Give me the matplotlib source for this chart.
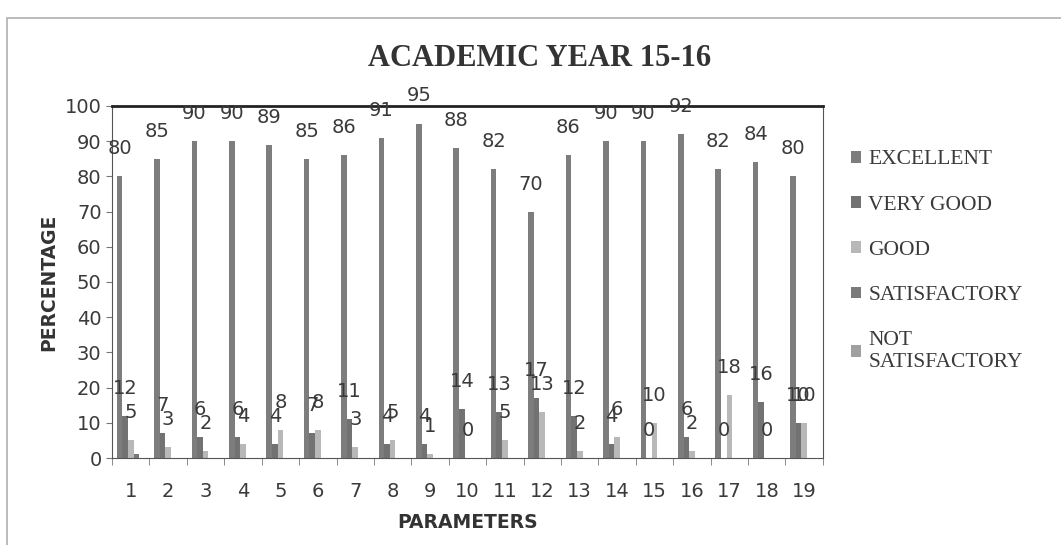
import numpy as np
import matplotlib
matplotlib.use("Agg")
import matplotlib.pyplot as plt
from matplotlib.patches import Rectangle

params = [str(i) for i in range(1, 20)]
excellent = [80, 85, 90, 90, 89, 85, 86, 91, 95, 88, 82, 70, 86, 90, 90, 92, 82, 84, 80]
very_good = [12, 7, 6, 6, 4, 7, 11, 4, 4, 14, 13, 17, 12, 4, 0, 6, 0, 16, 10]
good = [5, 3, 2, 4, 8, 8, 3, 5, 1, 0, 5, 13, 2, 6, 10, 2, 18, 0, 10]
satisfactory = [1, 0, 0, 0, 0, 0, 0, 0, 0, 0, 0, 0, 0, 0, 0, 0, 0, 0, 0]
not_satisfactory = [0] * 19

series = [("EXCELLENT", excellent, "#7d7d7d", True),
          ("VERY GOOD", very_good, "#727272", True),
          ("GOOD", good, "#b8b8b8", True),
          ("SATISFACTORY", satisfactory, "#7a7a7a", False),
          ("NOT\nSATISFACTORY", not_satisfactory, "#a0a0a0", False)]

fig = plt.figure(figsize=(10.61, 5.45), dpi=100)
fig.patches.append(Rectangle((0.0066, -0.01), 1.0, 0.977, transform=fig.transFigure,
                             fill=False, edgecolor="#b0b0b0", lw=1.2))
ax = fig.add_axes([0.1056, 0.1596, 0.670, 0.646])

x = np.arange(len(params))
w = 0.15
for i, (name, vals, col, lab) in enumerate(series):
    bars = ax.bar(x + (i - 2) * w, vals, w, color=col, label=name)
    if lab:
        ax.bar_label(bars, padding=13, fontsize=14, color="#3a3a3a")

ax.set_xlim(-0.5, len(params) - 0.5)
ax.set_ylim(0, 100)
ax.set_yticks(range(0, 101, 10))
ax.set_xticks(x)
ax.set_xticklabels(params)
ax.set_xticks(np.arange(-0.5, len(params), 1), minor=True)
ax.tick_params(axis="x", which="major", length=0, labelsize=14, pad=17, labelcolor="#3a3a3a")
ax.tick_params(axis="x", which="minor", length=5, color="#777777")
ax.tick_params(axis="y", labelsize=14, length=4, color="#777777", labelcolor="#3a3a3a")
for s in ["left", "bottom", "right"]:
    ax.spines[s].set_color("#555555")
ax.spines["top"].set_linewidth(2)
ax.spines["top"].set_color("#222222")

ax.set_ylabel("PERCENTAGE", fontsize=13.5, fontweight="bold", color="#333333", labelpad=5)
ax.set_xlabel("PARAMETERS", fontsize=13.5, fontweight="bold", color="#333333", labelpad=9)
fig.text(0.509, 0.893, "ACADEMIC YEAR 15-16", ha="center", va="center",
         fontsize=22, fontweight="bold", family="Liberation Serif", color="#333333")

ax.legend(loc="upper left", bbox_to_anchor=(0.802, 0.724), bbox_transform=fig.transFigure,
          frameon=False, prop={"family": "Liberation Serif", "size": 15.5},
          handlelength=0.45, handleheight=0.45, handletextpad=0.35, labelspacing=1.22,
          borderpad=0, borderaxespad=0, labelcolor="#3a3a3a")

fig.savefig("out.png", dpi=100)
